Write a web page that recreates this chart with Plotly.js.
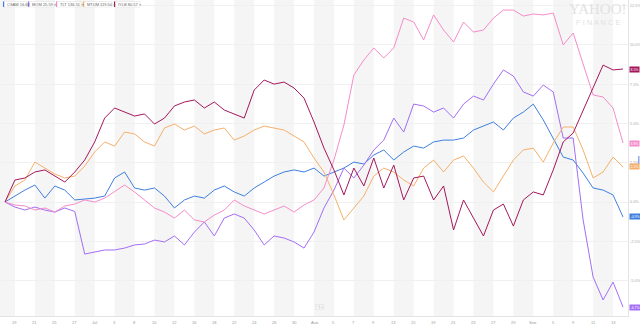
<!DOCTYPE html>
<html><head><meta charset="utf-8">
<script src="https://cdn.plot.ly/plotly-3.0.1.min.js"></script>
<style>html,body{margin:0;padding:0;background:#fff;}#chart{width:640px;height:324px;}</style>
</head><body><div id="chart"></div>
<script>
const dates = [
 '2019-06-18','2019-06-19','2019-06-20','2019-06-21','2019-06-24','2019-06-25','2019-06-26','2019-06-27','2019-06-28',
 '2019-07-01','2019-07-02','2019-07-03','2019-07-05','2019-07-08','2019-07-09','2019-07-10','2019-07-11','2019-07-12',
 '2019-07-15','2019-07-16','2019-07-17','2019-07-18','2019-07-19','2019-07-22','2019-07-23','2019-07-24','2019-07-25',
 '2019-07-26','2019-07-29','2019-07-30','2019-07-31',
 '2019-08-01','2019-08-02','2019-08-05','2019-08-06','2019-08-07','2019-08-08','2019-08-09','2019-08-12','2019-08-13',
 '2019-08-14','2019-08-15','2019-08-16','2019-08-19','2019-08-20','2019-08-21','2019-08-22','2019-08-23','2019-08-26',
 '2019-08-27','2019-08-28','2019-08-29','2019-08-30',
 '2019-09-03','2019-09-04','2019-09-05','2019-09-06','2019-09-09','2019-09-10','2019-09-11','2019-09-12','2019-09-13','2019-09-16'
];
const tickLabels = ['19','21','25','27','Jul','3','8','10','12','16','18','22','24','26','30',
 'Aug','5','7','9','13','15','19','21','23','27','29','Sep','5','9','11','13'];
const yTicks = [-5,-2.5,0,2.5,5,7.5,10,12.5];
const yTickLabels = ['-5.0%','-2.5%','0.0%','2.5%','5.0%','7.5%','10.0%','12.5%'];

const legendNames = ['CSAM 16.68','MOM 25.59 \u00d7','TLT 136.51 \u00d7','MTUM 119.50 \u00d7','IYLB 80.57 \u00d7'];

const seriesBlue = [0,0.38,0.76,1.08,0.25,1.02,0.76,0.13,0.19,0.25,0.38,1.53,1.91,0.89,0.76,0.89,0.38,-0.38,0.13,0.38,
 0.25,0.76,1.02,0.64,0.38,0.89,1.27,1.65,1.91,2.04,1.91,2.16,1.65,1.91,2.16,2.54,2.42,2.99,3.31,2.67,
 3.18,3.56,3.43,3.82,3.94,3.94,4.07,4.58,4.83,5.09,4.58,5.34,5.72,6.23,5.22,4.07,2.86,2.67,1.84,0.89,0.76,0.45,-0.95];
const seriesPurple = [0,-0.32,-0.51,-0.32,-0.51,-0.64,-0.38,-0.6,-3.31,-3.18,-3.05,-3.05,-2.93,-2.73,-2.67,-2.42,-2.54,-2.16,-2.73,-1.91,
 -1.27,-2.16,-1.02,-0.76,-1.02,-1.78,-2.73,-2.16,-2.29,-2.54,-2.93,-1.91,-0.38,0.76,2.16,1.53,2.35,3.31,3.94,5.34,
 4.45,6.23,6.11,5.72,5.98,5.34,6.23,6.74,6.49,7.50,8.40,8.01,7.00,6.74,7.44,7.00,4.07,4.07,-1.14,-4.77,-6.23,-5.09,-6.68];
const seriesPink = [0,-0.19,-0.25,-0.51,-0.38,-0.64,-0.25,-0.13,0.13,0,0.25,0.64,1.08,0.64,0.13,-0.38,-0.64,-1.02,-0.51,-1.14,
 -1.27,-0.83,-0.51,0.13,-0.25,-0.51,-0.76,-0.51,-0.25,-0.64,-0.19,0.13,0.89,2.67,4.90,8.08,9.03,9.80,9.16,9.80,
 11.70,11.45,10.31,11.90,10.94,10.18,11.45,10.81,10.94,11.70,12.21,12.21,11.83,11.96,11.90,12.02,9.99,10.75,8.71,6.81,6.68,5.98,3.75];
const seriesOrange = [0,1.02,1.40,2.54,2.16,1.78,1.53,1.65,2.29,3.18,3.82,3.56,4.45,4.33,3.82,3.56,4.71,4.96,4.58,4.83,
 4.33,4.58,4.71,3.94,4.20,4.58,4.83,4.71,4.58,4.20,3.82,2.80,1.91,0.45,-1.14,-0.38,0.38,1.65,2.16,1.91,
 1.40,1.02,2.16,2.67,1.91,2.67,2.93,2.16,1.27,0.64,1.65,2.67,3.31,3.43,2.54,3.75,4.77,4.77,3.31,1.53,1.91,2.86,2.23];
const seriesMaroon = [0,1.40,1.53,1.91,2.04,1.65,1.27,1.91,2.67,3.82,5.34,5.98,5.72,5.47,5.60,4.96,5.34,6.11,6.36,6.49,
 5.98,6.36,5.85,5.60,5.34,7.12,7.76,7.50,7.63,7.25,6.61,5.09,3.43,2.04,0.45,2.16,1.02,2.80,0.89,2.35,
 0.13,1.53,1.65,0.13,1.02,-1.78,0.13,-1.02,-2.16,-0.51,-0.13,-1.53,0.13,0.64,0.45,2.04,3.82,4.39,5.85,7.31,8.71,8.40,8.46];

const colors = ['#3f7fe0','#a46ef5','#f58ccb','#f6b06b','#a5175c'];
const seriesList = [seriesBlue, seriesPurple, seriesPink, seriesOrange, seriesMaroon];

const traces = seriesList.map((s,k)=>({
  x: dates, y: s, type:'scatter', mode:'lines',
  line:{color:colors[k], width:1}, hoverinfo:'skip', showlegend:false
}));

const W = 628, H = 316;
const shapes = [];
for (let k=0; k<=15; k++) {
  shapes.push({type:'rect', layer:'below', xref:'x', yref:'paper',
    x0: Math.max(4*k-1,-0.5), x1: 4*k+1, y0:0, y1:1, fillcolor:'#f4f5f4', line:{width:0}});
}
const annotations = [];
// x tick labels at odd indices, placed just below the axis line
const tickDates = dates.filter((d,i)=>i%2===1);
tickDates.forEach((d,j)=>{
  annotations.push({xref:'x', yref:'paper', x:d, y:0, yshift:-1.5, xanchor:'center', yanchor:'top',
    text:tickLabels[j], showarrow:false, font:{size:4, color:'#999', family:'Liberation Sans, Arial'}});
});
const legX = [3, 28, 56, 83, 114];
const legW = [24, 26, 25, 29, 26];
legendNames.forEach((n,k)=>{
  shapes.push({type:'rect', xref:'paper', yref:'paper',
    x0:legX[k]/W, x1:(legX[k]+legW[k])/W, y0:1-7/H, y1:1-1.5/H,
    fillcolor:'#ffffff', line:{color:'#dddddd', width:0.5}});
  shapes.push({type:'rect', xref:'paper', yref:'paper',
    x0:legX[k]/W, x1:(legX[k]+1.2)/W, y0:1-7/H, y1:1-1.5/H,
    fillcolor:colors[k], line:{width:0}});
  annotations.push({xref:'paper', yref:'paper', x:(legX[k]+2)/W, y:1-4.3/H,
    xanchor:'left', yanchor:'middle', text:n, showarrow:false,
    font:{size:4, color:'#666', family:'Liberation Sans, Arial'}});
});
seriesList.forEach((s,k)=>{
  const v = s[s.length-1];
  annotations.push({xref:'paper', yref:'y', x:1, y:v, xanchor:'left', yanchor:'middle', xshift:0.5,
    text:v.toFixed(1)+'%', showarrow:false, bgcolor:colors[k], borderpad:0.5,
    font:{size:3.5, color:'#ffffff', family:'Liberation Sans, Arial'}});
});
annotations.push({xref:'paper', yref:'paper', x:598/W, y:1-9/H, text:'YAHOO!', showarrow:false,
  xanchor:'center', yanchor:'middle', font:{size:15, color:'#e2e2e2', family:'Liberation Serif, serif'}});
annotations.push({xref:'paper', yref:'paper', x:598/W, y:1-22/H, text:'F I N A N C E', showarrow:false,
  xanchor:'center', yanchor:'middle', font:{size:7.5, color:'#e2e2e2', family:'Liberation Sans, Arial'}});
annotations.push({xref:'paper', yref:'paper', x:319/W, y:1-307/H, text:'\u2212 | +', showarrow:false,
  xanchor:'center', yanchor:'middle', bordercolor:'#e0e0e0', borderwidth:0.5, borderpad:0.5,
  font:{size:3.5, color:'#aaa', family:'Liberation Sans, Arial'}});
shapes.push({type:'rect', xref:'paper', yref:'paper', x0:638/W, x1:639.5/W, y0:1-164/H, y1:1-156/H,
  fillcolor:'#8fa8f0', line:{width:0}});

const layout = {
  width:640, height:324,
  margin:{l:0, r:12, t:0, b:8, pad:0},
  paper_bgcolor:'#ffffff', plot_bgcolor:'#ffffff',
  showlegend:false,
  xaxis:{type:'category', range:[-0.5,62.5], showticklabels:false, automargin:false,
    showgrid:false, zeroline:false, showline:true, linecolor:'#e4e4e4', linewidth:1, ticks:'', fixedrange:true},
  yaxis:{side:'right', range:[-7.25,12.85], tickvals:yTicks, ticktext:yTickLabels, automargin:false,
    tickfont:{size:4, color:'#aaa', family:'Liberation Sans, Arial'},
    showgrid:true, gridcolor:'#f0f0f0', gridwidth:1, zeroline:false, showline:true, linecolor:'#e4e4e4',
    ticks:'', fixedrange:true},
  shapes: shapes, annotations: annotations
};
Plotly.newPlot('chart', traces, layout, {displayModeBar:false, staticPlot:true});
</script></body></html>
